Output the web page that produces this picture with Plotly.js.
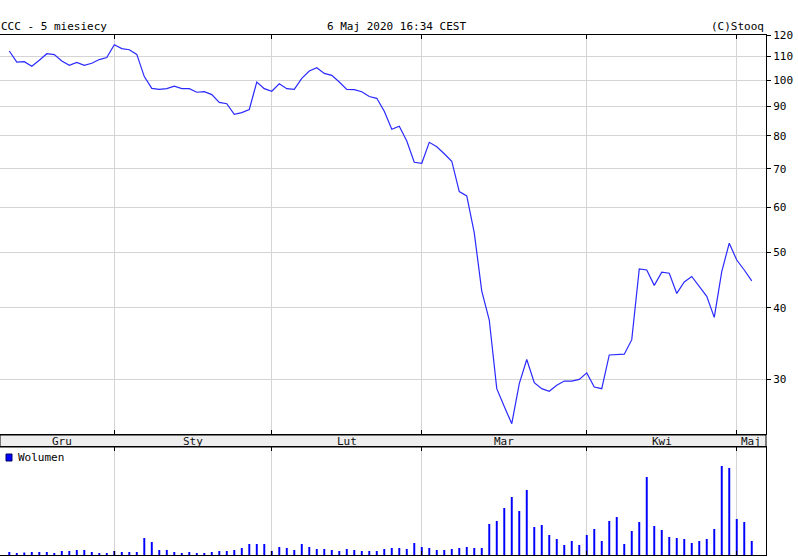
<!DOCTYPE html>
<html>
<head>
<meta charset="utf-8">
<script src="https://cdn.plot.ly/plotly-3.0.1.min.js"></script>
<style>html,body{margin:0;padding:0;background:#fff;}#chart{width:798px;height:558px;}</style>
</head>
<body>
<div id="chart"></div>
<script>
// Trading-day index 0..99 (Dec 2019 – 6 May 2020)
const closePrices = [
 112.5,107.6,107.8,105.8,108.4,111.3,110.9,108.1,106.2,107.5,
 106.2,107.1,108.7,109.6,115.4,113.6,113.1,111.0,101.5,96.8,
 96.4,96.7,97.7,96.7,96.7,95.3,95.5,94.4,91.5,91.0,
 87.2,87.8,88.9,99.3,96.7,95.7,98.6,96.7,96.4,100.8,
 103.8,105.2,102.8,102.0,99.3,96.4,96.3,95.5,93.7,93.0,
 88.3,82.1,83.1,78.3,71.9,71.6,77.9,76.5,74.4,72.2,
 63.9,62.8,54.1,42.8,38.1,28.9,26.9,25.1,29.5,32.5,
 29.6,28.9,28.6,29.3,29.8,29.8,30.0,30.8,29.1,28.9,
 33.1,33.1,33.2,35.2,46.8,46.6,43.8,46.2,46.0,42.4,
 44.4,45.4,43.6,41.9,38.5,46.3,51.9,48.5,46.6,44.6
];
const volumes = [
 3,2,2.5,3,3,3,2,4,4,5,
 5,3,2,2,4,3,3,3,17,13,
 5,5,3,2,3,2,2,3,4,4,
 5,7,11,11,11,4,8,7,5,11,
 8,6,6,5,4,6,5,4,4,4,
 6,7,7,6,12,8,7,5,5,6,
 7,8,7,7,31,34,47,58,44,65,
 28,30,20,16,10,14,10,20,26,14,
 34,38,11,24,33,78,29,25,18,17,
 16,12,14,16,26,89,87,36,33,14
];
const monthLabels = ['Gru','Sty','Lut','Mar','Kwi','Maj'];
const monthStart = [0,14,35,55,77,97];
const priceTicks = [30,40,50,60,70,80,90,100,110,120];

const idx = closePrices.map((_, i) => i);
const xRange = [-1.24, 100.9];
const F = 'DejaVu Sans Mono, monospace';

const W = 766, H = 520, TOP = 35;
const py = y => (TOP + H - y) / H;   // pixel -> paper (vertical)

const priceDomain = [py(434), 1];
const volDomain = [0, py(447)];

const traces = [
  {x: idx, y: closePrices, type: 'scatter', mode: 'lines', xaxis: 'x', yaxis: 'y',
   line: {color: '#2a2aff', width: 1.2}, hoverinfo: 'skip', showlegend: false},
  {x: idx, y: volumes, type: 'bar', xaxis: 'x2', yaxis: 'y2', width: 0.26,
   marker: {color: '#0000ff', line: {width: 0}}, hoverinfo: 'skip', showlegend: false}
];

const xCommon = {
  range: xRange, tickvals: monthStart.slice(1), showticklabels: false,
  showgrid: true, gridcolor: '#d4d4d4', gridwidth: 1, zeroline: false,
  ticks: 'inside', ticklen: 4, tickcolor: '#000', tickwidth: 1,
  showline: true, linecolor: '#000', linewidth: 1, mirror: 'ticks'
};

const annotations = [];
monthLabels.forEach((m, k) => {
  const s = monthStart[k];
  const e = k + 1 < monthStart.length ? monthStart[k + 1] : xRange[1] * 2 - s - (xRange[1] - s);
  const c = k + 1 < monthStart.length ? (s + e) / 2 : (s + xRange[1]) / 2;
  annotations.push({x: c, xref: 'x', y: (py(435) + py(447)) / 2, yref: 'paper',
    text: m, showarrow: false, xanchor: 'center', yanchor: 'middle',
    font: {family: F, size: 11, color: '#111'}});
});
annotations.push(
  {x: 0, xref: 'paper', y: py(26), yref: 'paper', text: 'CCC - 5 miesiecy', showarrow: false,
   xanchor: 'left', yanchor: 'middle', xshift: -1, font: {family: F, size: 11, color: '#000'}},
  {x: 325 / W, xref: 'paper', y: py(26), yref: 'paper', text: '6 Maj 2020 16:34 CEST', showarrow: false,
   xanchor: 'left', yanchor: 'middle', font: {family: F, size: 11, color: '#000'}},
  {x: 1, xref: 'paper', y: py(26), yref: 'paper', text: '(C)Stooq', showarrow: false,
   xanchor: 'right', yanchor: 'middle', font: {family: F, size: 11, color: '#000'}},
  {x: 16 / W, xref: 'paper', y: py(457.5), yref: 'paper', text: 'Wolumen', showarrow: false,
   xanchor: 'left', yanchor: 'middle', font: {family: F, size: 11, color: '#000'}}
);

const layout = {
  width: 798, height: 558,
  margin: {l: 0, r: 32, t: TOP, b: 3, pad: 0},
  paper_bgcolor: '#fff', plot_bgcolor: '#fff',
  showlegend: false,
  font: {family: F, size: 11, color: '#000'},
  xaxis: Object.assign({}, xCommon, {anchor: 'y'}),
  xaxis2: Object.assign({}, xCommon, {anchor: 'y2', matches: 'x'}),
  yaxis: {
    type: 'log', domain: priceDomain, side: 'right',
    range: [Math.log10(24.08), Math.log10(120)],
    tickvals: priceTicks, ticktext: priceTicks.map(String),
    ticks: 'outside', ticklen: 4, tickcolor: '#000',
    tickfont: {family: F, size: 11, color: '#000'},
    showgrid: true, gridcolor: '#d4d4d4', gridwidth: 1, zeroline: false,
    showline: true, linecolor: '#000', linewidth: 1, mirror: true
  },
  yaxis2: {
    domain: volDomain, range: [0, 108], side: 'right',
    showticklabels: false, ticks: '', showgrid: false, zeroline: false,
    showline: true, linecolor: '#000', linewidth: 1, mirror: true
  },
  shapes: [
    {type: 'rect', xref: 'paper', yref: 'paper', x0: 0, x1: 1, y0: py(447), y1: py(435),
     fillcolor: '#eeeeee', line: {color: '#000', width: 1}, layer: 'below'},
    {type: 'rect', xref: 'paper', yref: 'paper', x0: 6 / W, x1: 12 / W, y0: py(461), y1: py(454),
     fillcolor: '#0000ff', line: {color: '#000060', width: 1}}
  ],
  annotations: annotations
};

Plotly.newPlot('chart', traces, layout, {displayModeBar: false, staticPlot: true});
</script>
</body>
</html>
